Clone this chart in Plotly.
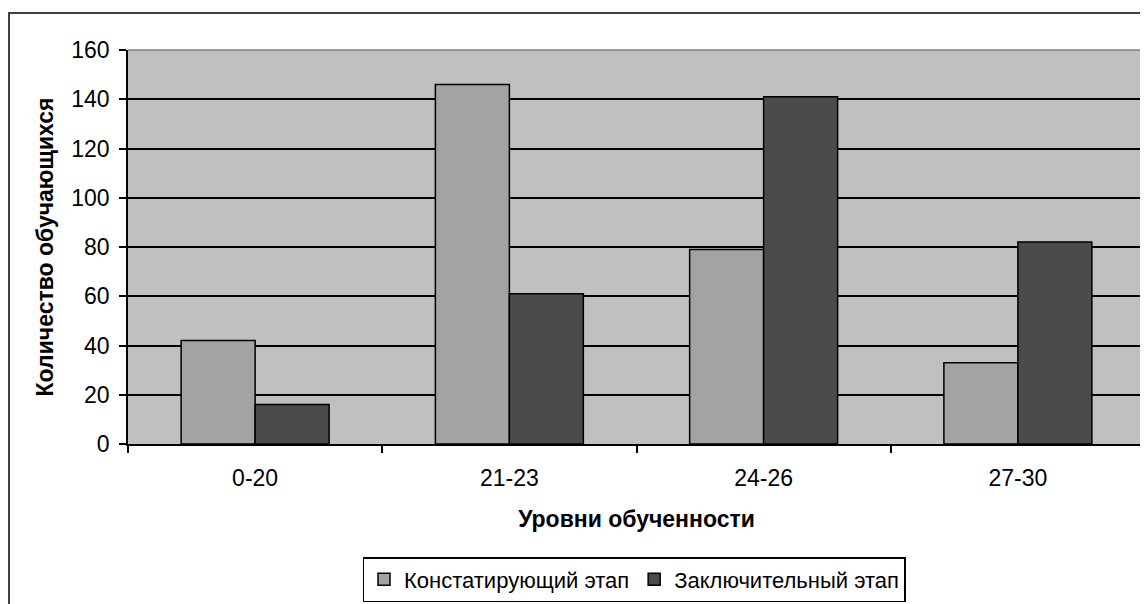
import plotly.graph_objects as go

categories = ["0-20", "21-23", "24-26", "27-30"]
series_names = ["Констатирующий этап", "Заключительный этап"]
konst_values = [42, 146, 79, 33]
zakl_values = [16, 61, 141, 82]
y_tick_values = [0, 20, 40, 60, 80, 100, 120, 140, 160]

FONT = "Liberation Sans, Arial, sans-serif"

fig = go.Figure()
fig.add_trace(go.Bar(
    x=categories, y=konst_values, name=series_names[0],
    marker=dict(color="#A3A3A3", line=dict(color="#000000", width=1.5)),
))
fig.add_trace(go.Bar(
    x=categories, y=zakl_values, name=series_names[1],
    marker=dict(color="#4B4B4B", line=dict(color="#000000", width=1.5)),
))

OFF = 8  # page body margin
W, H = 1140, 596
# plot area in page coords: x 128..1145, y 50..444
L, T = 128 - OFF, 50 - OFF
R = W - (1145 - OFF)
B = H - (444 - OFF)
pw, ph = W - L - R, H - T - B

def px_x(p):
    return (p - OFF - L) / pw

def px_y(p):
    return (H - B - (p - OFF)) / ph

fig.update_layout(
    width=W, height=H,
    margin=dict(l=L, r=R, t=T, b=B, autoexpand=False),
    paper_bgcolor="#FFFFFF",
    plot_bgcolor="#C0C0C0",
    barmode="group",
    bargap=0.418,
    bargroupgap=0,
    font=dict(family=FONT, size=23, color="#000000"),
    showlegend=True,
    legend=dict(
        orientation="h",
        x=px_x(634), xanchor="center",
        y=px_y(602), yanchor="bottom",
        bgcolor="#FFFFFF",
        bordercolor="#000000", borderwidth=1.5,
        font=dict(family=FONT, size=22, color="#000000"),
        itemwidth=30,
        tracegroupgap=0,
    ),
    xaxis=dict(
        type="category",
        automargin=False,
        showline=True, linecolor="#000000", linewidth=1.5,
        ticks="outside", ticklen=7, tickwidth=1.5, tickcolor="#000000",
        tickson="boundaries",
        showgrid=False,
        ticklabelstandoff=13,
        tickfont=dict(family=FONT, size=23),
        title=dict(text="<b>Уровни обученности</b>", standoff=21,
                   font=dict(family=FONT, size=23)),
    ),
    yaxis=dict(
        range=[0, 160],
        automargin=False,
        tickvals=y_tick_values,
        showline=True, linecolor="#000000", linewidth=1.5,
        ticks="outside", ticklen=7, tickwidth=1.5, tickcolor="#000000",
        showgrid=True, gridcolor="#000000", gridwidth=1.5,
        zeroline=False,
        ticklabelstandoff=5,
        tickfont=dict(family=FONT, size=23),
        title=dict(text="<b>Количество обучающихся</b>", standoff=11,
                   font=dict(family=FONT, size=23)),
    ),
    shapes=[
        dict(type="line", xref="paper", yref="paper", x0=0, x1=1, y0=1, y1=1,
             line=dict(color="#808080", width=1.5)),
        dict(type="line", xref="paper", yref="paper", x0=1, x1=1, y0=0, y1=1,
             line=dict(color="#808080", width=1.5)),
        dict(type="rect", xref="paper", yref="paper",
             x0=px_x(9), x1=px_x(1170), y0=px_y(640), y1=px_y(13),
             line=dict(color="#404040", width=2), layer="below"),
    ],
)

fig.write_html("out.html")
